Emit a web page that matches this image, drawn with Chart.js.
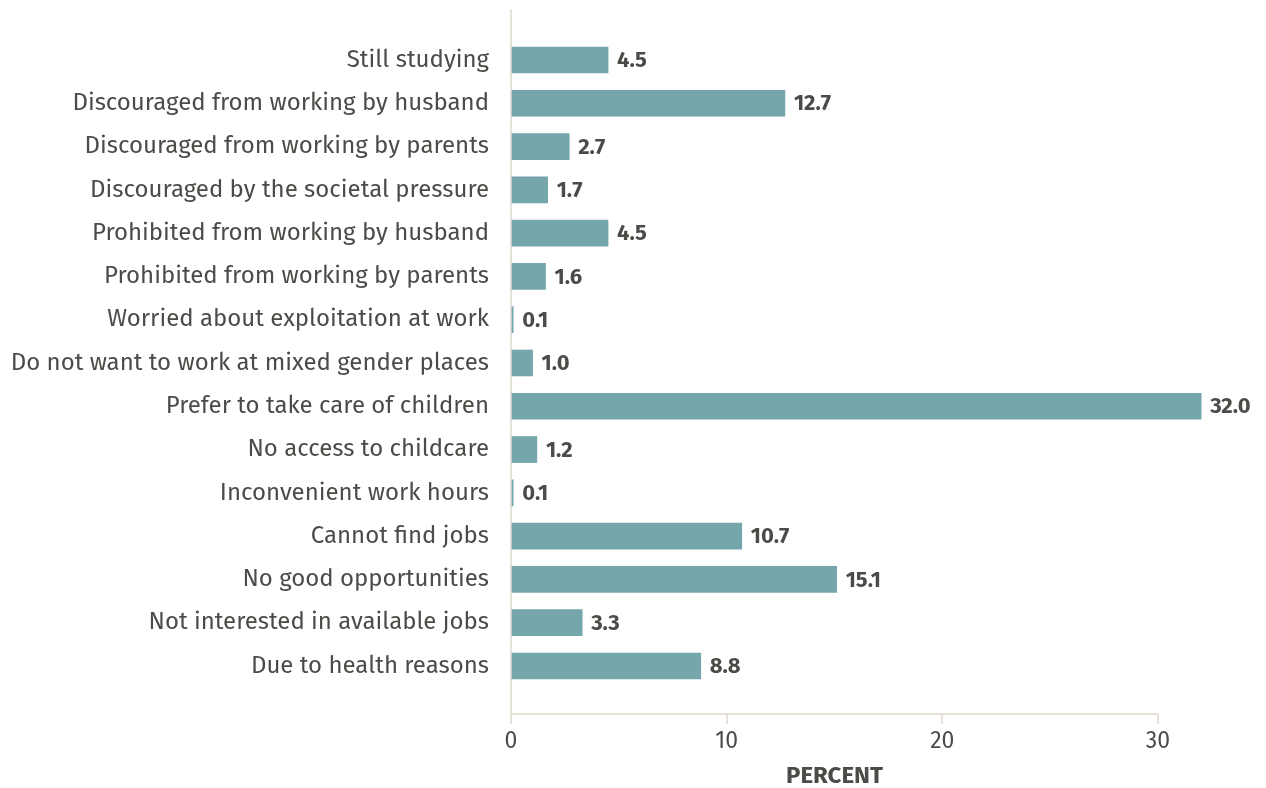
<!DOCTYPE html>
<html>
<head>
<meta charset="utf-8">
<script src="https://cdn.jsdelivr.net/npm/chart.js@4"></script>
<style>
  html, body { margin: 0; padding: 0; background: #ffffff; }
  #wrap { width: 1266px; height: 788px; position: relative; }
</style>
</head>
<body>
<div id="wrap"><canvas id="chart"></canvas></div>
<script>
// Reasons for not working, share of respondents
const categories = [
  'Still studying',
  'Discouraged from working by husband',
  'Discouraged from working by parents',
  'Discouraged by the societal pressure',
  'Prohibited from working by husband',
  'Prohibited from working by parents',
  'Worried about exploitation at work',
  'Do not want to work at mixed gender places',
  'Prefer to take care of children',
  'No access to childcare',
  'Inconvenient work hours',
  'Cannot find jobs',
  'No good opportunities',
  'Not interested in available jobs',
  'Due to health reasons'
];
const percentValues = [4.5, 12.7, 2.7, 1.7, 4.5, 1.6, 0.1, 1.0, 32.0, 1.2, 0.1, 10.7, 15.1, 3.3, 8.8];
const xTickValues = [0, 10, 20, 30];
const xAxisTitle = 'PERCENT';

const FONT = "'Fira Sans', 'Noto Sans', sans-serif";
const TEXT = '#4b4b47';
const AXIS = '#e6e2da';
const BAR = '#74a6ab';

// value labels at the end of each bar
const valueLabels = {
  id: 'valueLabels',
  afterDatasetsDraw(chart) {
    const ctx = chart.ctx;
    const meta = chart.getDatasetMeta(0);
    ctx.save();
    ctx.font = 'bold 22px ' + FONT;
    ctx.fillStyle = TEXT;
    ctx.textAlign = 'left';
    ctx.textBaseline = 'middle';
    meta.data.forEach((bar, i) => {
      ctx.fillText(percentValues[i].toFixed(1), bar.x + 9, bar.y + 1);
    });
    ctx.restore();
  }
};

new Chart(document.getElementById('chart'), {
  type: 'bar',
  data: {
    datasets: [{
      data: percentValues.map((v, i) => ({ x: v, y: i })),
      backgroundColor: BAR,
      borderWidth: 0,
      barThickness: 26,
      clip: false
    }]
  },
  options: {
    indexAxis: 'y',
    responsive: true,
    maintainAspectRatio: false,
    animation: false,
    layout: { padding: { top: 10, right: 108, left: 0, bottom: 0 } },
    plugins: { legend: { display: false }, tooltip: { enabled: false } },
    scales: {
      y: {
        type: 'linear',
        reverse: true,
        offset: false,
        min: -1.155,
        max: 15.11,
        afterBuildTicks(scale) {
          scale.ticks = categories.map((_, i) => ({ value: i }));
        },
        afterFit(scale) {
          scale.width = 511;
          scale.paddingTop = 0;
          scale.paddingBottom = 0;
        },
        ticks: {
          autoSkip: false,
          padding: 22,
          color: TEXT,
          font: { family: FONT, size: 24 },
          callback: (v) => categories[v]
        },
        grid: { display: false, drawTicks: false },
        border: { display: true, color: AXIS, width: 2 }
      },
      x: {
        type: 'linear',
        min: 0,
        max: 30,
        afterBuildTicks(scale) {
          scale.ticks = xTickValues.map(v => ({ value: v }));
        },
        afterFit(scale) {
          scale.height = 74;
          scale.paddingLeft = 0;
          scale.paddingRight = 0;
        },
        ticks: {
          padding: 4,
          color: TEXT,
          font: { family: FONT, size: 23 }
        },
        grid: { drawOnChartArea: false, drawTicks: true, tickLength: 10, color: AXIS, lineWidth: 2 },
        border: { display: true, color: AXIS, width: 2 },
        title: {
          display: true,
          text: xAxisTitle,
          color: TEXT,
          font: { family: FONT, size: 24, weight: 'bold', lineHeight: 1.0 },
          padding: { top: 5, bottom: 0 }
        }
      }
    }
  },
  plugins: [valueLabels]
});
</script>
</body>
</html>
